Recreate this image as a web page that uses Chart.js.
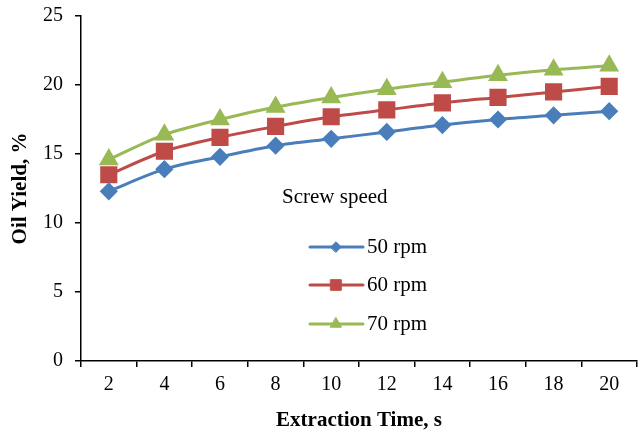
<!DOCTYPE html>
<html>
<head>
<meta charset="utf-8">
<script src="https://cdn.jsdelivr.net/npm/chart.js@4.4.1/dist/chart.umd.min.js"></script>
<style>
  html, body { margin: 0; padding: 0; background: #fff; }
  #wrap { width: 640px; height: 433px; }
</style>
</head>
<body>
<div id="wrap"><canvas id="chart" width="640" height="433"></canvas></div>
<script>
const times = ['2', '4', '6', '8', '10', '12', '14', '16', '18', '20'];
const rpm50 = [12.3, 13.9, 14.8, 15.6, 16.1, 16.6, 17.1, 17.5, 17.8, 18.1];
const rpm60 = [13.5, 15.2, 16.2, 17.0, 17.7, 18.2, 18.7, 19.1, 19.5, 19.9];
const rpm70 = [14.6, 16.4, 17.5, 18.4, 19.1, 19.7, 20.2, 20.7, 21.1, 21.4];
const seriesNames = ['50 rpm', '60 rpm', '70 rpm'];
const yTicks = [0, 5, 10, 15, 20, 25];

const FONT = '"Liberation Serif", "Times New Roman", serif';

// legend drawn inside the plot, like the Excel original
const insideLegend = {
  id: 'insideLegend',
  afterDraw(chart) {
    const ctx = chart.ctx;
    ctx.save();
    ctx.font = '21px ' + FONT;
    ctx.fillStyle = '#000';
    ctx.textBaseline = 'middle';
    ctx.textAlign = 'left';
    ctx.fillText('Screw speed', 282, 197);

    const rows = [247, 285, 324];
    chart.data.datasets.forEach((ds, i) => {
      const y = rows[i];
      ctx.strokeStyle = ds.borderColor;
      ctx.lineWidth = 3;
      ctx.lineCap = 'round';
      ctx.beginPath();
      ctx.moveTo(310, y);
      ctx.lineTo(363, y);
      ctx.stroke();

      ctx.fillStyle = ds.pointBackgroundColor;
      ctx.strokeStyle = ds.pointBorderColor;
      ctx.lineWidth = 1;
      Chart.helpers.drawPoint(ctx, {
        pointStyle: ds.pointStyle,
        radius: ds.pointRadius * 0.75,
        borderWidth: 1
      }, 336, y);

      ctx.font = '21px ' + FONT;
      ctx.fillStyle = '#000';
      ctx.fillText(seriesNames[i], 367, y);
    });
    ctx.restore();
  }
};

function series(label, data, color, style, radius) {
  return {
    label: label,
    data: data,
    borderColor: color,
    backgroundColor: color,
    pointBackgroundColor: color,
    pointBorderColor: color,
    pointStyle: style,
    pointRadius: radius,
    pointHoverRadius: radius,
    borderWidth: 3,
    tension: 0.3,
    clip: false
  };
}

new Chart(document.getElementById('chart'), {
  type: 'line',
  data: {
    labels: times,
    datasets: [
      series(seriesNames[0], rpm50, '#4a7ebb', 'rectRot', 7),
      series(seriesNames[1], rpm60, '#be4b48', 'rect', 10),
      series(seriesNames[2], rpm70, '#98b954', 'triangle', 8.5)
    ]
  },
  options: {
    responsive: false,
    animation: false,
    layout: { autoPadding: false, padding: { left: 0, top: 16, right: 3, bottom: 0 } },
    plugins: {
      legend: { display: false },
      tooltip: { enabled: false }
    },
    scales: {
      x: {
        offset: true,
        afterFit: (s) => { s.height = 72; s.paddingLeft = 0; s.paddingRight = 0; },
        border: { display: true, color: '#000', width: 1.5 },
        grid: { display: true, offset: true, drawOnChartArea: false, drawTicks: true, tickLength: 6, color: '#000', lineWidth: 1.5 },
        ticks: { color: '#000', font: { family: FONT, size: 20 }, padding: 6, maxRotation: 0 },
        title: { display: true, text: 'Extraction Time, s', color: '#000', font: { family: FONT, size: 21, weight: 'bold' }, padding: 0 }
      },
      y: {
        min: 0,
        max: 25,
        afterFit: (s) => { s.width = 81; s.paddingTop = 0; s.paddingBottom = 0; },
        afterBuildTicks: (s) => { s.ticks = yTicks.map(v => ({ value: v })); },
        border: { display: true, color: '#000', width: 1.5 },
        grid: { display: true, drawOnChartArea: false, drawTicks: true, tickLength: 6, color: '#000', lineWidth: 1.5 },
        ticks: { color: '#000', font: { family: FONT, size: 20 }, padding: 12 },
        title: { display: true, text: 'Oil Yield, %', color: '#000', font: { family: FONT, size: 21, weight: 'bold' }, padding: { top: 8, bottom: 0 } }
      }
    }
  },
  plugins: [insideLegend]
});
</script>
</body>
</html>
